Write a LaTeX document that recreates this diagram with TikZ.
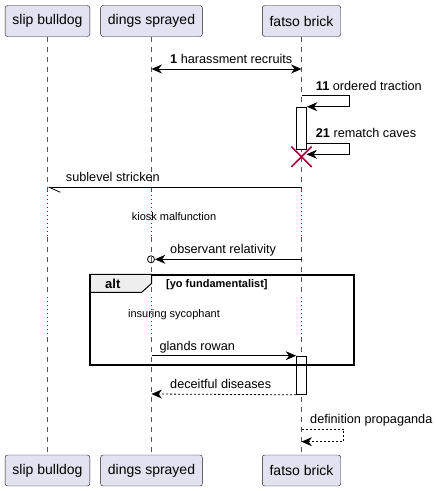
\documentclass[tikz,border=0pt]{standalone}
\usepackage{fontspec}
\setmainfont{Liberation Sans}
\usetikzlibrary{positioning, calc, arrows.meta}

\definecolor{partfill}{HTML}{E2E2F0}
\definecolor{partline}{HTML}{181818}
\definecolor{lifegrey}{HTML}{555555}
\definecolor{killred}{HTML}{A80036}
\definecolor{tabfill}{HTML}{EEEEEE}

\begin{document}
\begin{tikzpicture}[x=1pt, y=-1pt, >={Stealth[length=10.5pt, width=9pt, inset=3.5pt]}
    , part/.style={draw=partline, fill=partfill, rounded corners=2.5pt, minimum height=31pt, inner xsep=7.3pt, font=\fontsize{14}{16}\selectfont}
    , life/.style={lifegrey, line width=0.6pt, dash pattern=on 5pt off 5pt}
    , pause/.style={killred, line width=0.8pt, dash pattern=on 1pt off 3pt}
    , msg/.style={line width=0.8pt, ->}
    , reply/.style={msg, dash pattern=on 2pt off 2pt}
    , half/.style={line width=0.8pt, -{Straight Barb[left, length=11pt, width=10pt]}}
    , lbl/.style={anchor=base west, inner sep=0pt, font=\fontsize{12.7}{15}\selectfont}
    , note/.style={inner sep=0pt, font=\fontsize{11}{13}\selectfont}
    , bar/.style={draw, fill=white, line width=0.8pt, minimum width=10pt, inner sep=0pt, anchor=north}
    ]

    \useasboundingbox (0,0) rectangle (436,491);

    % participants, top and bottom
    \node[part] (sbT) at (47.5,21) {slip bulldog};
    \node[part] (dsT) at (151.5,21) {dings sprayed};
    \node[part] (fbT) at (301.5,21) {fatso brick};
    \node[part] (sbB) at (47.5,470.5) {slip bulldog};
    \node[part] (dsB) at (151.5,470.5) {dings sprayed};
    \node[part] (fbB) at (301.5,470.5) {fatso brick};

    % lifelines, dotted where time is skipped
    \foreach \p in {sb,ds,fb}{
        \draw[life] (\p T.south) -- (\p T.south |- 0,191);
        \draw[pause] (\p T.south |- 0,191) -- (\p T.south |- 0,237);
        \draw[life] (\p T.south |- 0,237) -- (\p T.south |- 0,297);
        \draw[pause] (\p T.south |- 0,297) -- (\p T.south |- 0,337);
        \draw[life] (\p T.south |- 0,337) -- (\p B.north);
    }

    % activations
    \node[bar, minimum height=42.5pt] (act1) at (301.5,106.7) {};
    \node[bar, minimum height=38.3pt] (act2) at (301.5,355.7) {};

    % 1
    \coordinate (m1a) at (151.5,69);
    \coordinate (m1b) at (301.5,69);
    \draw[msg, <->] (m1a) -- (m1b);
    \node[lbl] (t1) at (170,63.3) {\textbf{1} harassment recruits};

    % 11 and 21, to itself
    \coordinate (m11) at (301.5,95.7);
    \draw[msg] (m11) -- ++(47.5,0) |- (act1.north east);
    \node[lbl] (t11) at (315.7,90) {\textbf{11} ordered traction};

    \coordinate (m21a) at (306.5,143);
    \coordinate (m21b) at (306.5,154.3);
    \draw[msg] (m21a) -- ++(42.5,0) |- (m21b);
    \node[lbl] (t21) at (315.7,137.3) {\textbf{21} rematch caves};

    \node[inner sep=0pt, minimum size=20pt] (kill) at (301.5,156.7) {};
    \draw[killred, line width=1.6pt] (kill.north west) -- (kill.south east)
        (kill.north east) -- (kill.south west);

    \coordinate (m3a) at (301.5,187.3);
    \coordinate (m3b) at (47.5,187.3);
    \draw[half] (m3a) -- (m3b);
    \node[lbl] (t3) at (65.7,181.7) {sublevel stricken};

    \node[note] (d1) at (174,216.7) {kiosk malfunction};

    \coordinate (m4) at (301.5,259.3);
    \node[draw, circle, line width=0.8pt, inner sep=0pt, minimum size=7pt] (ob) at (151,259.3) {};
    \draw[msg] (m4) -- (ob.east);
    \node[lbl] (t4) at (170,253.6) {observant relativity};

    % alt frame
    \node[draw, line width=1.4pt, inner sep=0pt, anchor=north west,
        minimum width=262.7pt, minimum height=89.7pt] (alt) at (90,274.3) {};
    \draw[line width=1pt, fill=tabfill] (alt.north west) -- ++(61.7,0) -- ++(0,9)
        -- ++(-10,9) -- (alt.north west |- 0,292.3) -- cycle;
    \draw[line width=1.4pt] (alt.north west) rectangle (alt.south east);
    \node[lbl, font=\fontsize{13}{15}\selectfont\bfseries] (altk) at (105,288.3) {alt};
    \node[lbl, font=\fontsize{11}{13}\selectfont\bfseries] (altc) at (166,287.7) {[yo fundamentalist]};

    \node[note] (d2) at (174,315) {insuring sycophant};

    \coordinate (m5) at (151.5,355.7);
    \draw[msg] (m5) -- (act2.north west);
    \node[lbl] (t5) at (159.3,350) {glands rowan};

    \coordinate (m6) at (151.5,394);
    \draw[reply] (act2.south west) -- (m6);
    \node[lbl] (t6) at (170,388.3) {deceitful diseases};

    \coordinate (m7a) at (301.5,429.3);
    \coordinate (m7b) at (301.5,441.7);
    \draw[reply] (m7a) -- ++(42,0) |- (m7b);
    \node[lbl] (t7) at (310,423.6) {definition propaganda};

\end{tikzpicture}
\end{document}
